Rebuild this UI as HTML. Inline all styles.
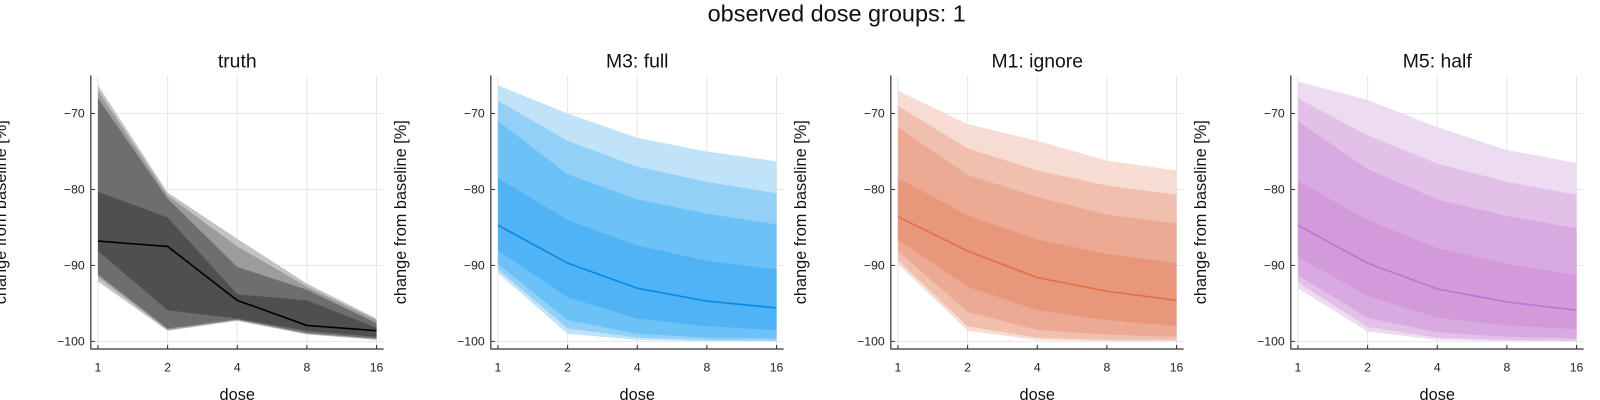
<!DOCTYPE html>
<html><head><meta charset="utf-8"><style>
body{margin:0;background:#fff}
svg{font-family:"Liberation Sans",sans-serif;display:block}
</style></head><body>
<svg width="1600" height="400" viewBox="0 0 1600 400">
<g id="c" transform="scale(1.020408)">
<text x="820" y="21" text-anchor="middle" font-size="23" fill="#111">observed dose groups: 1</text>
</g>
</svg>
<script>
const doses = [1, 2, 4, 8, 16];
const yTicks = [-70, -80, -90, -100];
const panelTitles = ["truth", "M3: full", "M1: ignore", "M5: half"];
// truth
const truthUp = [[-66.3,-80.4,-86.5,-92.4,-97],[-67,-80.8,-87.5,-92.8,-97.2],[-68,-81.2,-90.2,-93.2,-97.6],[-80.3,-83.7,-93.8,-94.6,-98.2]];
const truthLo = [[-92.1,-98.6,-97.3,-99.1,-99.8],[-91.5,-98.5,-97.2,-99,-99.7],[-91.2,-98.3,-97.1,-98.9,-99.6],[-88.1,-95.9,-97,-98.6,-99.4]];
const truthMed = [-86.8,-87.5,-94.6,-97.9,-98.6];
// M3
const m3Up = [[-66.3,-70,-73.2,-75,-76.3],[-68.3,-73.6,-77,-79,-80.5],[-71,-78,-81.3,-83.2,-84.6],[-78.5,-84,-87.4,-89.4,-90.5]];
const m3Lo = [[-91,-99,-99.8,-100,-100],[-90.5,-98.3,-99.5,-99.8,-99.9],[-89.8,-97.2,-99,-99.5,-99.6],[-88,-94.2,-97,-98,-98.5]];
const m3Med = [-84.7,-89.7,-93,-94.7,-95.6];
// M1
const m1Up = [[-67,-71.4,-73.6,-76.2,-77.5],[-69,-74.6,-77.5,-79.5,-80.7],[-71.8,-78.1,-81,-83.3,-84.5],[-78.5,-83.4,-86.6,-88.5,-89.7]];
const m1Lo = [[-89.8,-98.6,-99.8,-100,-100],[-89.3,-98,-99.5,-99.8,-99.8],[-88.1,-96.1,-98.5,-99.1,-99.4],[-86.6,-92.8,-95.9,-97.2,-98]];
const m1Med = [-83.6,-88.1,-91.6,-93.4,-94.6];
// M5
const m5Up = [[-65.8,-68.2,-71.8,-74.8,-76.5],[-68,-72.9,-76.6,-79,-80.7],[-71,-77.3,-81.3,-83.5,-85.1],[-78.9,-84,-87.7,-89.8,-91.3]];
const m5Lo = [[-93,-98.7,-99.8,-100,-100],[-92.2,-98.1,-99.5,-99.8,-99.9],[-91.3,-96.9,-98.8,-99.4,-99.6],[-88.9,-94,-96.9,-97.9,-98.4]];
const m5Med = [-84.7,-89.7,-93.1,-94.8,-95.9];

const panels = [
 {up:truthUp, lo:truthLo, med:truthMed, fills:["#c2c2c2","#9c9c9c","#6e6e6e","#4f4f4f"], line:"#000"},
 {up:m3Up, lo:m3Lo, med:m3Med, fills:["#c0e3f9","#93d0f8","#6cc1f6","#4fb3f5"], line:"#0a8ae0"},
 {up:m1Up, lo:m1Lo, med:m1Med, fills:["#f6dcd2","#f0bfae","#eca994","#e8977b"], line:"#e26f46"},
 {up:m5Up, lo:m5Lo, med:m5Med, fills:["#eddbf2","#e2c0e8","#d9a9e1","#d39ada"], line:"#c271d2"}
];
const NS = "http://www.w3.org/2000/svg";
const svgRoot = document.getElementById("c");
function mk(tag, attrs, parent){const e=document.createElementNS(NS,tag);for(const k in attrs)e.setAttribute(k,attrs[k]);(parent||svgRoot).appendChild(e);return e;}
const left0=89, pw=287, gap=392, plotTop=74, plotBottom=342;
const yMin=-101, yMax=-65;
panels.forEach((p,i)=>{
  const L=left0+i*gap, R=L+pw;
  const xs=d=>L+7+(Math.log2(d)/4)*(pw-14);
  const ys=v=>plotBottom-(v-yMin)/(yMax-yMin)*(plotBottom-plotTop);
  const g=mk("g",{});
  
  
  doses.forEach(d=>{const l=mk("line",{x1:xs(d),x2:xs(d),y1:plotTop,y2:plotBottom,stroke:"#e6e6e6","stroke-width":1},g);
    
    });
  yTicks.forEach(v=>{const l=mk("line",{x1:L,x2:R,y1:ys(v),y2:ys(v),stroke:"#e6e6e6","stroke-width":1},g);
    
    });
  p.up.forEach((u,k)=>{
    const lo=p.lo[k];
    const d="M"+doses.map((x,j)=>xs(x)+","+ys(u[j])).join(" L")+" L"+doses.map((x,j)=>xs(x)+","+ys(lo[j])).reverse().join(" L")+" Z";
    const b=mk("path",{d:d,fill:p.fills[k],stroke:"none"},g);
    
    
  });
  const ml=mk("polyline",{points:doses.map((x,j)=>xs(x)+","+ys(p.med[j])).join(" "),fill:"none",stroke:p.line,"stroke-width":1.6},g);
  
  
  const ax=mk("path",{d:`M${L},${plotTop} L${L},${plotBottom} L${R},${plotBottom}`,fill:"none",stroke:"#333","stroke-width":1.2},g);
  
  
  doses.forEach(d=>{
    mk("line",{x1:xs(d),x2:xs(d),y1:plotBottom,y2:plotBottom-4,stroke:"#333"},g);
    const t=mk("text",{x:xs(d),y:plotBottom+22,"text-anchor":"middle","font-size":12,fill:"#222"},g);
    t.textContent=d;
    
    
  });
  yTicks.forEach(v=>{
    mk("line",{x1:L,x2:L+4,y1:ys(v),y2:ys(v),stroke:"#333"},g);
    const t=mk("text",{x:L-6,y:ys(v)+4,"text-anchor":"end","font-size":12,fill:"#222"},g);
    t.textContent="\u2212"+Math.abs(v);
    
    
  });
  const tt=mk("text",{x:(L+R)/2,y:66,"text-anchor":"middle","font-size":19,fill:"#111"},g);
  tt.textContent=panelTitles[i];
  
  
  const xl=mk("text",{x:(L+R)/2,y:392,"text-anchor":"middle","font-size":16,fill:"#111"},g);
  xl.textContent="dose";
  
  
  const yx=L-83, yc=(plotTop+plotBottom)/2;
  const yl=mk("text",{x:yx,y:yc,"text-anchor":"middle","font-size":16,fill:"#111",transform:`rotate(-90 ${yx} ${yc})`},g);
  yl.textContent="change from baseline [%]";
  
  
});
</script>
</body></html>
